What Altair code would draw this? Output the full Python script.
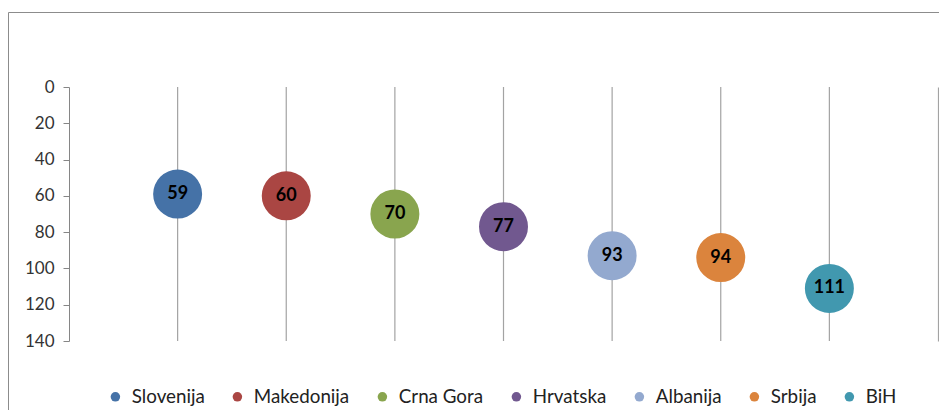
import altair as alt
import pandas as pd

countries = ["Slovenija", "Makedonija", "Crna Gora", "Hrvatska", "Albanija", "Srbija", "BiH"]
values = [59, 60, 70, 77, 93, 94, 111]
colors = ["#4572A7", "#AA4643", "#89A54E", "#71588F", "#93A9CF", "#DB843D", "#4198AF"]
y_ticks = [0, 20, 40, 60, 80, 100, 120, 140]
axis_min, axis_max = 0, 140

df = pd.DataFrame({
    "country": countries,
    "value": values,
    "lo": [axis_min] * len(countries),
    "hi": [axis_max] * len(countries),
})

FONT = "Lato"
xenc = alt.X("country:N", sort=countries, scale=alt.Scale(type="point", padding=1), axis=None)
yscale = alt.Scale(domain=[axis_min, axis_max], reverse=True, nice=False, zero=False)

base = alt.Chart(df)

rules = base.mark_rule(color="#A3A3A3", strokeWidth=1.2).encode(
    x=xenc,
    y=alt.Y("lo:Q", scale=yscale,
            axis=alt.Axis(orient="left", values=y_ticks, title="", grid=False)),
    y2="hi:Q",
)

right_axis = base.mark_rule(opacity=0).encode(
    y=alt.Y("lo:Q", scale=yscale,
            axis=alt.Axis(orient="right", labels=False, ticks=False, title="", grid=False,
                          domainColor="#A3A3A3", domainWidth=1.2)),
)

points = base.mark_circle(size=2400, opacity=1).encode(
    x=xenc,
    y=alt.Y("value:Q", scale=yscale, axis=None),
    color=alt.Color(
        "country:N",
        scale=alt.Scale(domain=countries, range=colors),
        sort=countries,
        legend=alt.Legend(
            title=None, orient="none", legendX=37, legendY=300,
            direction="horizontal", columns=7, symbolType="circle",
            symbolSize=90, labelFont=FONT, labelFontSize=18.8, labelColor="#222222",
            columnPadding=23, labelOffset=7,
        ),
    ),
)

labels = base.mark_text(font=FONT, fontSize=18, fontWeight="bold", color="black",
                        baseline="middle", align="center").encode(
    x=xenc,
    y=alt.Y("value:Q", scale=yscale, axis=None),
    text="value:Q",
)

frame = alt.Chart(pd.DataFrame({"f": [0]})).mark_rect(
    fillOpacity=0, stroke="#8C8C8C", strokeWidth=1
).encode(
    x=alt.value(-60.5), x2=alt.value(1000), y=alt.value(-74.5), y2=alt.value(600)
)

chart = alt.layer(frame, rules, right_axis, points, labels).resolve_axis(
    y="independent"
).properties(
    width=869,
    height=254,
    padding={"left": 61, "top": 79, "right": 1, "bottom": 69},
    autosize=alt.AutoSizeParams(type="none"),
).configure_view(stroke=None).configure_axis(
    labelFont=FONT, labelFontSize=17, labelColor="#333333",
    domainColor="#868686", tickColor="#868686", tickSize=6, labelPadding=9,
)

chart.save("out.html", embed_options={"renderer": "svg", "actions": False})
